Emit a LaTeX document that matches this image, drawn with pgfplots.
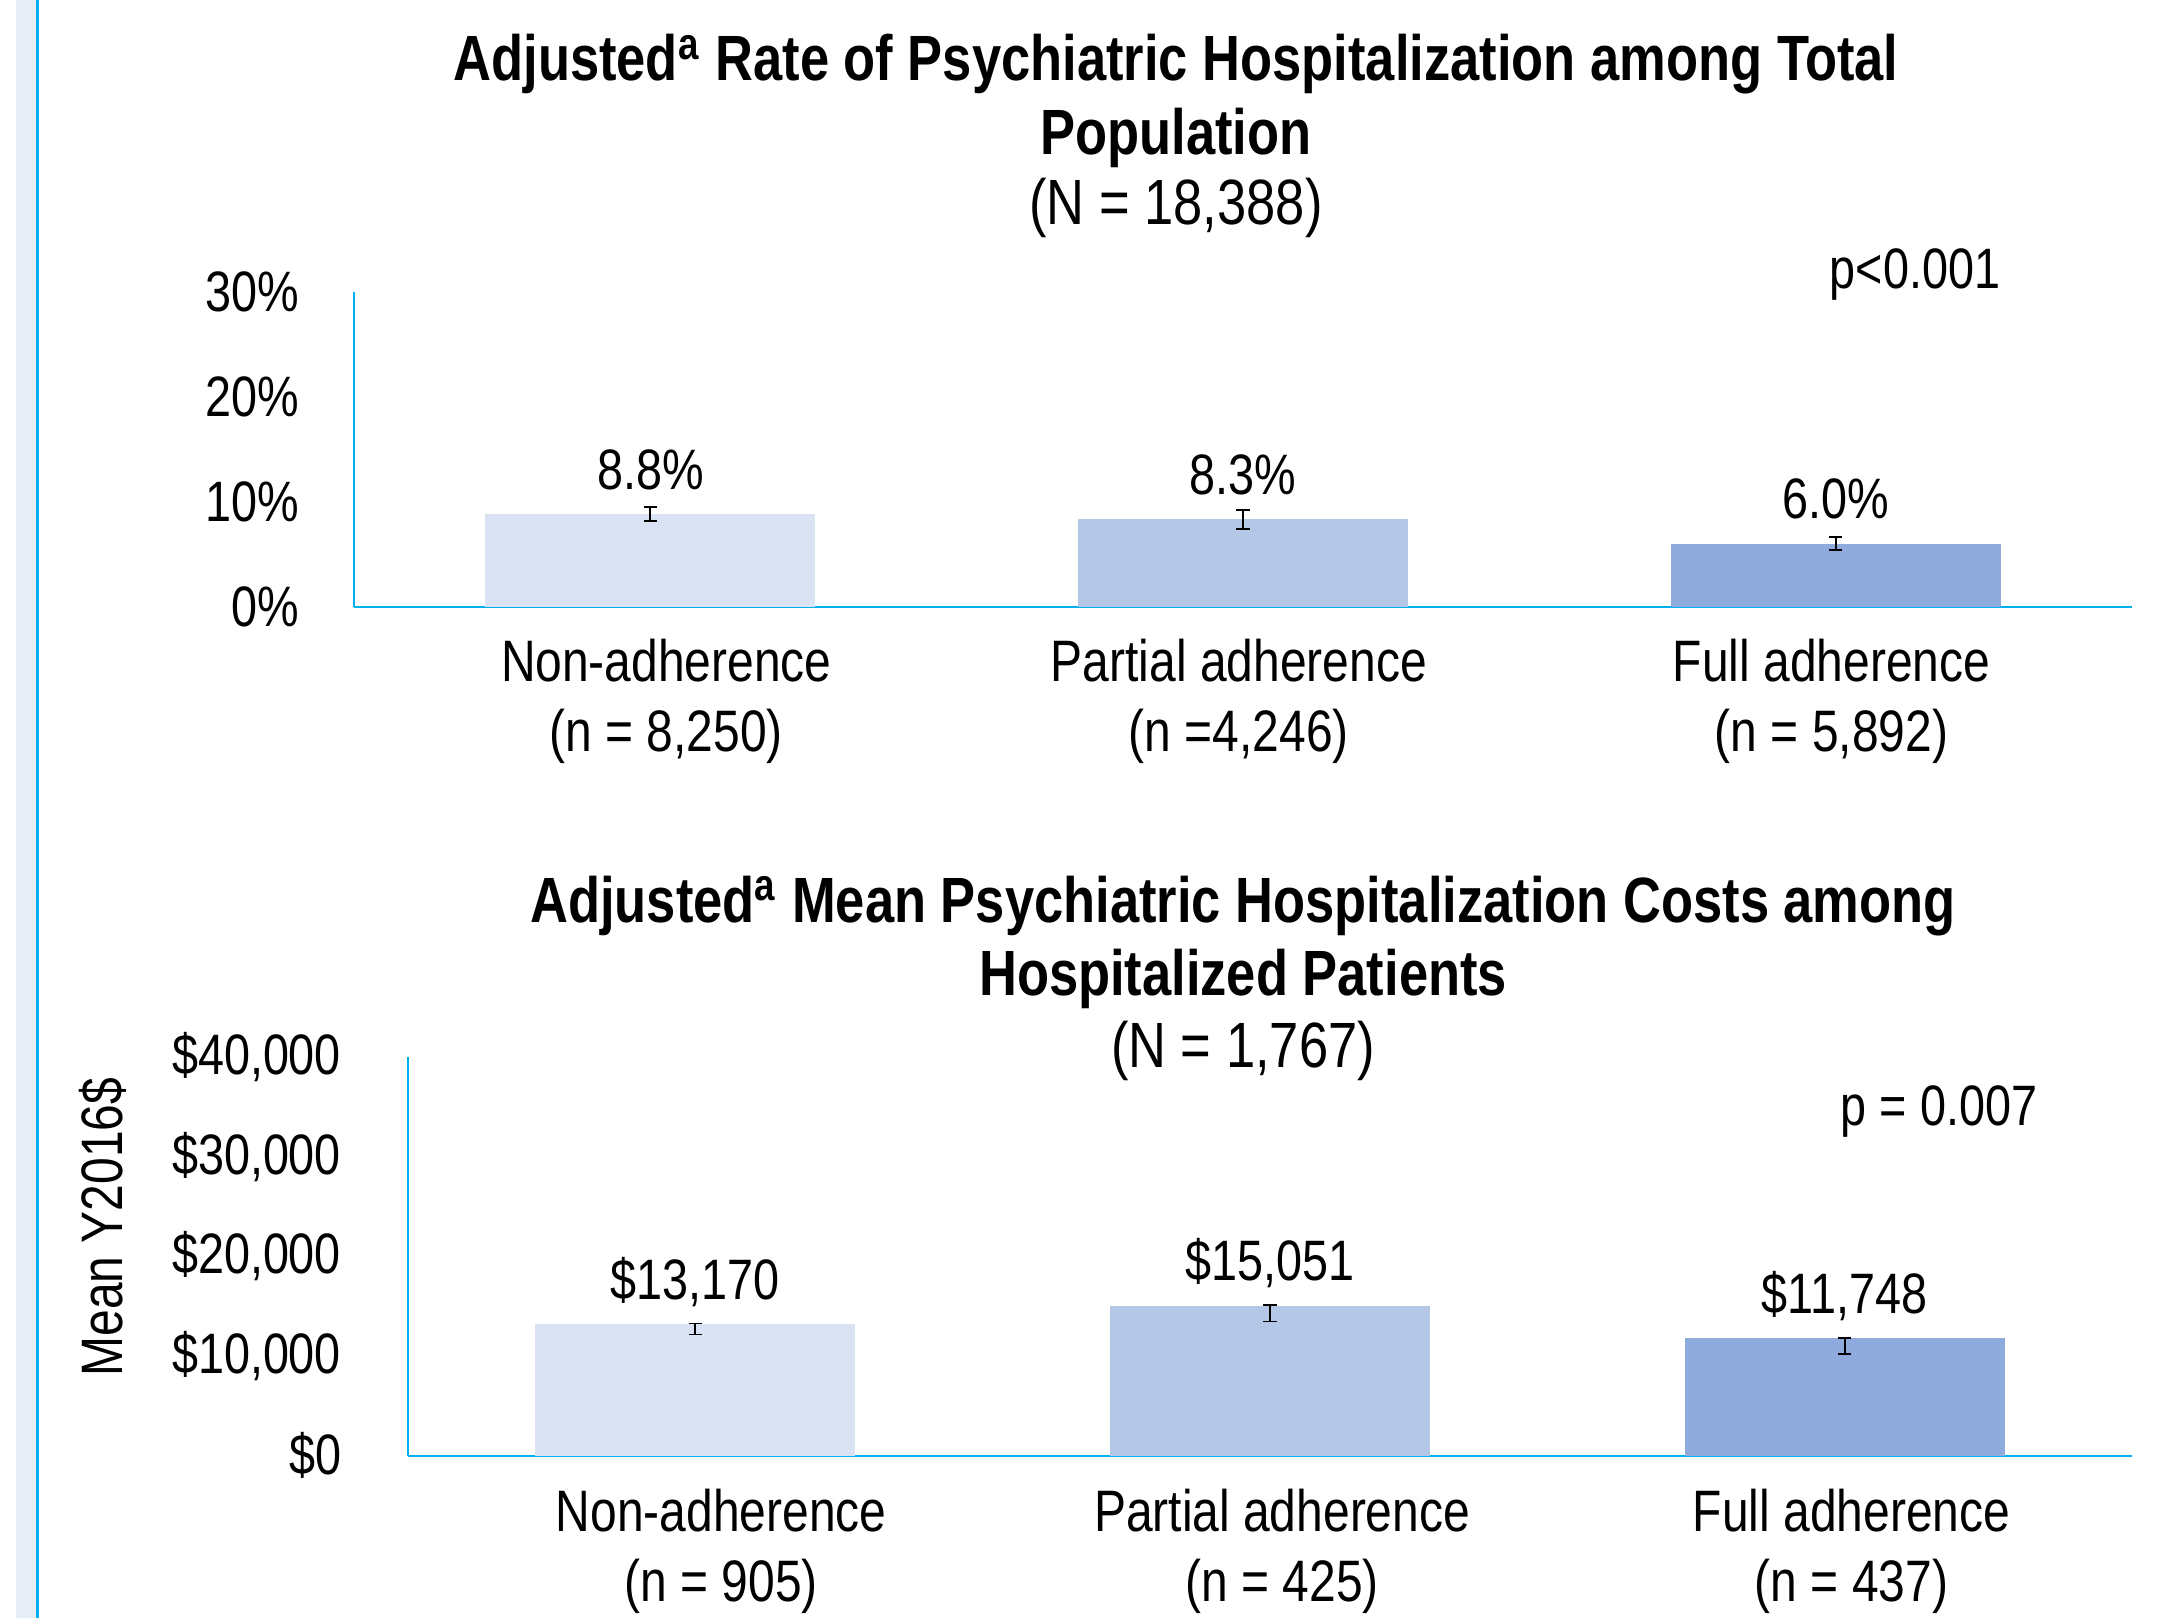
\documentclass[border=0pt]{standalone}
\usepackage{fontspec}
\setmainfont{Liberation Sans}[FakeStretch=0.82]
\usepackage{pgfplots}
\pgfplotsset{compat=1.18}
\definecolor{axcol}{HTML}{00B0F0}
\definecolor{bandcol}{HTML}{E7EEF7}
\definecolor{cA}{HTML}{DAE3F3}
\definecolor{cB}{HTML}{B4C7E7}
\definecolor{cC}{HTML}{8FAADC}
\newcommand{\fs}{\fontsize{11.4pt}{12.6pt}\selectfont}
\newcommand{\cfs}{\fontsize{11.7pt}{14pt}\selectfont}
\newcommand{\tfs}{\fontsize{12.8pt}{14pt}\selectfont}
\newcommand{\nfs}{\fontsize{12.8pt}{14pt}\selectfont}
\pgfplotsset{
  common/.style={
    scale only axis,
    xmin=-0.5, xmax=2.5, ymin=0,
    axis x line*=bottom, axis y line*=left,
    axis line style={draw=axcol, line width=0.4pt},
    major tick length=0pt,
    scaled y ticks=false,
    yticklabel style={anchor=east, inner sep=0pt, font=\fs},
    xticklabel style={anchor=north, align=center, inner sep=0pt, font=\cfs},
    ybar, bar width=0.557, bar shift=0pt,
    nodes near coords, point meta=explicit symbolic,
    every node near coord/.append style={anchor=south, text depth=0pt, inner sep=0pt, yshift=4.8pt, font=\fs, black},
    error bars/y dir=both, error bars/y explicit,
    error bars/error bar style={black, line width=0.35pt},
    error bars/error mark options={rotate=90, mark size=1.35pt, line width=0.35pt, black},
    clip=false,
  }
}
\begin{document}
\begin{tikzpicture}
\path[use as bounding box] (0,0) rectangle (435pt,-323.6pt);
\fill[bandcol] (3.2pt,0) rectangle (7.2pt,-323.6pt);
\draw[axcol, line width=0.55pt] (7.47pt,0) -- (7.47pt,-323.6pt);

\begin{axis}[common,
  at={(70.8pt,-121.3pt)}, anchor=south west,
  width=355.6pt, height=63pt,
  ymax=30,
  ytick={0,10,20,30}, yticklabels={0\%,10\%,20\%,30\%},
  yticklabel style={xshift=-10.8pt},
  xtick={0.027,0.993,1.993},
  xticklabels={{Non-adherence\\(n = 8,250)},{Partial adherence\\(n =4,246)},{Full adherence\\(n = 5,892)}},
  xticklabel style={yshift=-6.4pt},
]
\addplot[fill=cA, draw=none] coordinates {(0,8.8) +- (0,0.68) [8.8\%]};
\addplot[fill=cB, draw=none] coordinates {(1,8.3) +- (0,0.9) [8.3\%]};
\addplot[fill=cC, draw=none] coordinates {(2,6.0) +- (0,0.64) [6.0\%]};
\end{axis}

\begin{axis}[common,
  at={(81.6pt,-291.1pt)}, anchor=south west,
  width=344.8pt, height=79.7pt,
  ymax=40000,
  ytick={0,10000,20000,30000,40000},
  yticklabels={{\$0},{\$10,000},{\$20,000},{\$30,000},{\$40,000}},
  yticklabel style={xshift=-13.2pt},
  xtick={0.045,1.021,2.012},
  xticklabels={{Non-adherence\\(n = 905)},{Partial adherence\\(n = 425)},{Full adherence\\(n = 437)}},
  xticklabel style={yshift=-6.5pt},
]
\addplot[fill=cA, draw=none] coordinates {(0,13170) += (0,80) -= (0,1030) [\$13,170]};
\addplot[fill=cB, draw=none] coordinates {(1,15051) += (0,80) -= (0,1610) [\$15,051]};
\addplot[fill=cC, draw=none] coordinates {(2,11748) += (0,70) -= (0,1580) [\$11,748]};
\end{axis}

\node[anchor=base, font=\tfs\bfseries] at (235.2pt,-16.2pt) {Adjusted\textsuperscript{a} Rate of Psychiatric Hospitalization among Total};
\node[anchor=base, font=\tfs\bfseries] at (235.2pt,-30.9pt) {Population};
\node[anchor=base, font=\nfs] at (235.2pt,-45pt) {(N = 18,388)};
\node[anchor=base, font=\fs] at (383pt,-57.6pt) {p<0.001};

\node[anchor=base, font=\tfs\bfseries] at (248.6pt,-184.4pt) {Adjusted\textsuperscript{a} Mean Psychiatric Hospitalization Costs among};
\node[anchor=base, font=\tfs\bfseries] at (248.6pt,-199pt) {Hospitalized Patients};
\node[anchor=base, font=\nfs] at (248.6pt,-213.4pt) {(N = 1,767)};
\node[anchor=base, font=\fs] at (387.8pt,-225pt) {p = 0.007};

\node[rotate=90, font=\fontsize{11.7pt}{14pt}\selectfont] at (20.6pt,-245.4pt) {Mean Y2016\$};
\end{tikzpicture}
\end{document}
